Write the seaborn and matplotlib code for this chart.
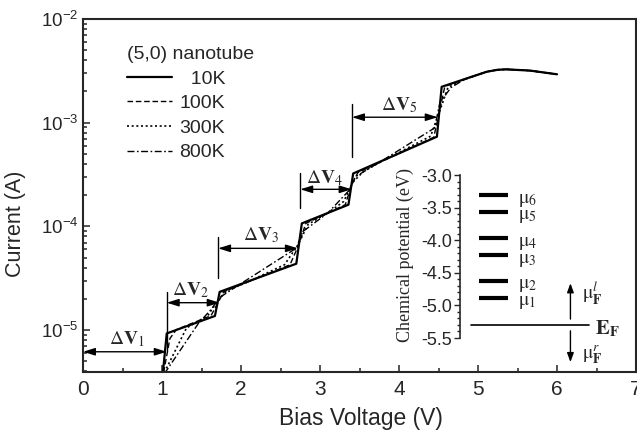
import numpy as np
import pandas as pd
import matplotlib
matplotlib.use("Agg")
import matplotlib.pyplot as plt
import seaborn as sns
from matplotlib.ticker import MultipleLocator, LogLocator, FuncFormatter, NullFormatter
from matplotlib.lines import Line2D

# ==========================
# data (bias in V, current in A)
# ==========================
temps = ["10K", "100K", "300K", "800K"]

v_10k = [1.01, 1.06, 1.67, 1.73, 2.70, 2.77, 3.36, 3.42, 4.48, 4.54, 5.11, 5.25, 5.36, 5.66, 6.00]
i_10k = [3.8e-6, 9.3e-6, 1.37e-5, 2.34e-5, 4.37e-5, 1.07e-4, 1.62e-4, 3.24e-4, 7.33e-4, 2.22e-3,
         3.10e-3, 3.24e-3, 3.27e-3, 3.18e-3, 2.93e-3]

v_100k = [1.02, 1.10, 1.18, 1.62, 1.70, 1.78, 2.62, 2.73, 2.82, 3.32, 3.40, 3.48, 4.44, 4.51, 4.58,
          5.11, 5.25, 5.36, 5.66, 6.00]
i_100k = [3.9e-6, 8.3e-6, 1.01e-5, 1.38e-5, 1.78e-5, 2.34e-5, 4.27e-5, 6.61e-5, 1.07e-4, 1.62e-4,
          2.51e-4, 3.31e-4, 7.24e-4, 1.26e-3, 2.24e-3, 3.10e-3, 3.24e-3, 3.27e-3, 3.18e-3, 2.93e-3]

v_300k = [1.03, 1.31, 1.58, 1.70, 1.82, 2.10, 2.55, 2.72, 2.85, 3.10, 3.30, 3.42, 3.55, 3.80, 4.40,
          4.51, 4.62, 4.80, 5.11, 5.25, 5.36, 5.66, 6.00]
i_300k = [3.9e-6, 1.05e-5, 1.38e-5, 1.91e-5, 2.40e-5, 2.95e-5, 4.27e-5, 6.61e-5, 1.05e-4, 1.35e-4,
          1.74e-4, 2.69e-4, 3.39e-4, 4.32e-4, 7.41e-4, 1.26e-3, 2.19e-3, 2.58e-3, 3.10e-3, 3.24e-3,
          3.27e-3, 3.18e-3, 2.93e-3]

v_800k = [1.03, 1.46, 1.62, 1.74, 1.96, 2.70, 2.78, 3.10, 3.36, 3.45, 3.80, 4.45, 4.52, 4.66, 4.85,
          5.11, 5.25, 5.36, 5.66, 6.00]
i_800k = [3.8e-6, 1.16e-5, 1.58e-5, 2.09e-5, 2.69e-5, 6.17e-5, 8.9e-5, 1.35e-4, 2.19e-4, 3.02e-4,
          4.37e-4, 8.9e-4, 1.58e-3, 2.19e-3, 2.67e-3, 3.10e-3, 3.24e-3, 3.27e-3, 3.18e-3, 2.93e-3]

# Delta V markers
dv_names = ["1", "2", "3", "4", "5"]
dv_start = [0.0, 1.06, 1.71, 2.75, 3.405]
dv_end = [1.06, 1.73, 2.72, 3.40, 4.49]
dv_level = [6.19e-6, 1.84e-5, 6.15e-5, 2.28e-4, 1.13e-3]
dv_bar_lo = [None, 6.5e-6, 3.16e-5, 1.50e-4, 4.67e-4]
dv_bar_hi = [None, 2.33e-5, 7.96e-5, 3.25e-4, 1.51e-3]
dv_text_x = [0.56, 1.355, 2.26, 3.06, 4.0]
dv_text_y = [8.2e-6, 2.44e-5, 8.26e-5, 2.91e-4, 1.48e-3]

# chemical potential levels (eV)
mu_levels = [-4.88, -4.62, -4.23, -3.97, -3.56, -3.31]
e_fermi = -5.30

# ==========================
# style
# ==========================
sns.set_style("ticks")
plt.rcParams["font.family"] = ["Liberation Sans", "DejaVu Sans"]
plt.rcParams["axes.linewidth"] = 1.5
narrow = ["Liberation Sans Narrow", "Liberation Sans"]

frames = []
for t, v, i in zip(temps, [v_10k, v_100k, v_300k, v_800k], [i_10k, i_100k, i_300k, i_800k]):
    frames.append(pd.DataFrame({"V": v, "I": i, "T": t}))
df = pd.concat(frames, ignore_index=True)

dashes = {"10K": "", "100K": (4, 2), "300K": (1.2, 1.6), "800K": (5, 1.8, 1.2, 1.8)}
widths = {"10K": 1.6, "100K": 1.0, "300K": 1.2, "800K": 1.0}
order = temps[::-1]

fig = plt.figure(figsize=(6.37, 4.36), dpi=100)
ax = fig.add_axes([83 / 637, 1 - 372 / 436, 553 / 637, 353 / 436])
ax.set_yscale("log")

sns.lineplot(data=df, x="V", y="I", style="T", size="T", style_order=order, size_order=order,
             dashes=dashes, sizes=widths, color="black", estimator=None, sort=False,
             legend=False, ax=ax)

ax.set_xlim(0, 7)
ax.set_ylim(3.95e-6, 1e-2)
ax.xaxis.set_major_locator(MultipleLocator(1))
ax.xaxis.set_minor_locator(MultipleLocator(0.5))
ax.yaxis.set_major_locator(LogLocator(base=10))
ax.yaxis.set_minor_locator(LogLocator(base=10, subs=np.arange(2, 10)))
ax.yaxis.set_minor_formatter(NullFormatter())
ax.yaxis.set_major_formatter(FuncFormatter(lambda y, _: r"$\mathregular{10^{%d}}$" % round(np.log10(y))))
ax.tick_params(which="both", direction="in", top=False, right=False, width=1.1)
ax.tick_params(which="major", length=5)
ax.tick_params(which="minor", length=3)
ax.tick_params(axis="x", labelsize=15, pad=6)
ax.tick_params(axis="y", labelsize=13.5)
for lab in ax.get_yticklabels():
    lab.set_family(narrow)

ax.set_xlabel("Bias Voltage (V)", fontsize=16.5)
ax.xaxis.set_label_coords(0.503, -0.098)
ax.set_ylabel("")
fig.text(15 / 637, 1 - 224 / 436, "Current (A)", fontsize=15.5, rotation=90,
         ha="center", va="center")

# legend
handles = [Line2D([], [], color="k", lw=widths["10K"], ls="-")]
for t in temps[1:]:
    handles.append(Line2D([], [], color="k", lw=widths[t], dashes=dashes[t]))
labels = ["  10K", "100K", "300K", "800K"]
ax.legend(handles, labels, title="(5,0) nanotube", loc="upper left",
          bbox_to_anchor=(127 / 637, 1 - 46 / 436), bbox_transform=fig.transFigure,
          frameon=False, handlelength=2.3, handletextpad=0.4, labelspacing=0.36,
          borderpad=0, borderaxespad=0, fontsize=14, title_fontsize=14, alignment="left")

# Delta V arrows
arrow = dict(arrowstyle="<|-|>,head_length=0.8,head_width=0.25", color="k", lw=1.0,
             shrinkA=0, shrinkB=0, mutation_scale=9)
for k in range(5):
    ax.annotate("", xy=(dv_end[k], dv_level[k]), xytext=(dv_start[k], dv_level[k]), arrowprops=arrow)
    if dv_bar_lo[k] is not None:
        ax.plot([dv_start[k]] * 2, [dv_bar_lo[k], dv_bar_hi[k]], color="k", lw=1.0)
    ax.text(dv_text_x[k], dv_text_y[k], r"$\Delta\mathbf{V}_{%s}$" % dv_names[k], fontsize=14,
            math_fontfamily="stix", ha="center", va="center")

# ==========================
# inset: chemical potential diagram
# ==========================
ax_in = fig.add_axes([460 / 637, 1 - 338 / 436, 176 / 637, 163 / 436])
ax_in.patch.set_alpha(0)
ax_in.set_xlim((460 - 83) / 79, 7.0)
ax_in.set_ylim(-5.5, -3.0)
for s in ["top", "right", "bottom"]:
    ax_in.spines[s].set_visible(False)
ax_in.spines["left"].set_linewidth(1.2)
ax_in.set_xticks([])
ax_in.yaxis.set_major_locator(MultipleLocator(0.5))
ax_in.yaxis.set_minor_locator(MultipleLocator(0.1))
ax_in.yaxis.set_major_formatter(FuncFormatter(lambda y, _: "%.1f" % y))
ax_in.tick_params(which="both", direction="out", width=1.0)
ax_in.tick_params(which="major", length=4, labelsize=13, pad=2)
ax_in.tick_params(which="minor", length=2)
for lab in ax_in.get_yticklabels():
    lab.set_family(narrow)
ax_in.text(-0.3125, 0.51, "Chemical potential (eV)", family="Liberation Serif", fontsize=13,
           rotation=90, ha="center", va="center", transform=ax_in.transAxes)

for n, lv in enumerate(mu_levels, start=1):
    ax_in.plot([5.01, 5.38], [lv, lv], color="k", lw=3, solid_capstyle="butt", clip_on=False)
    ax_in.text(5.51, lv - 0.08, r"$\mathrm{\mu}_{%d}$" % n, fontsize=14, math_fontfamily="stix",
               ha="left", va="center")
ax_in.plot([4.91, 6.40], [e_fermi, e_fermi], color="k", lw=1.2, clip_on=False)

small = dict(arrowstyle="-|>,head_length=0.6,head_width=0.22", color="k", lw=1.0,
             shrinkA=0, shrinkB=0, mutation_scale=9)
ax_in.annotate("", xy=(6.17, -4.66), xytext=(6.17, -5.21), arrowprops=small, annotation_clip=False)
ax_in.annotate("", xy=(6.17, -5.87), xytext=(6.17, -5.39), arrowprops=small, annotation_clip=False)
ax_in.text(6.32, -4.82, r"$\mathrm{\mu}_{\mathbf{F}}^{l}$", fontsize=14, math_fontfamily="stix",
           ha="left", va="center")
ax_in.text(6.32, -5.76, r"$\mathrm{\mu}_{\mathbf{F}}^{r}$", fontsize=14, math_fontfamily="stix",
           ha="left", va="center")
ax_in.text(6.48, -5.36, r"$\mathbf{E}_{\mathbf{F}}$", fontsize=15, math_fontfamily="stix",
           ha="left", va="center")

fig.savefig("out.png", dpi=100)
